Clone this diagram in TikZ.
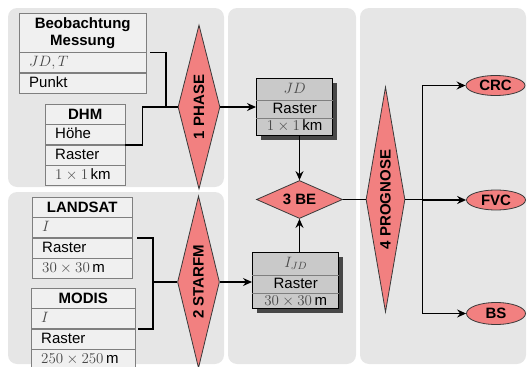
\RequirePackage{fix-cm}
\documentclass[tikz,border=0pt]{standalone}
\usepackage{fontspec}
\setmainfont{Liberation Sans}
\usetikzlibrary{arrows.meta,positioning,shapes.geometric,shadows}
\definecolor{panelgray}{HTML}{E6E6E6}
\definecolor{cellfill}{HTML}{F0F0F0}
\definecolor{cellline}{HTML}{7F7F7F}
\definecolor{resfill}{HTML}{C9C9C9}
\definecolor{procfill}{HTML}{F28080}
\definecolor{procline}{HTML}{3A3A3A}
\definecolor{mathgray}{HTML}{484848}
\newcommand{\grmath}[1]{\textcolor{mathgray}{$#1$}}

\begin{document}
\begin{tikzpicture}[x=1pt, y=-1pt, node font=\fontsize{15}{17}\selectfont,
  panel/.style={fill=panelgray, rounded corners=9pt},
  head/.style={draw=cellline, fill=cellfill, font=\bfseries, align=center, inner xsep=10pt, inner ysep=0pt, minimum height=20pt},
  cell/.style={draw=cellline, fill=cellfill, align=left, inner xsep=10pt, inner ysep=0pt, minimum height=20pt, text height=11pt, text depth=3pt},
  resbox/.style={draw, line width=1.4pt, fill=resfill, inner sep=0pt, drop shadow={shadow xshift=4pt, shadow yshift=-4pt, fill=black!72, opacity=1}},
  restext/.style={inner sep=0pt, align=center, text height=11pt, text depth=3pt},
  rowline/.style={draw=cellline, line width=0.5pt},
  proc/.style={diamond, draw=procline, fill=procfill, line width=0.8pt, inner sep=0pt, font=\bfseries},
  result/.style={ellipse, draw=procline, fill=procfill, line width=0.8pt, inner sep=0pt, minimum width=59pt, minimum height=20pt, font=\bfseries},
  feed/.style={line width=1.8pt},
  link/.style={line width=1.3pt},
  arr/.style={line width=1.4pt, -{Stealth[length=9pt, width=8pt, inset=3pt]}}]
\useasboundingbox (0,0) rectangle (528,367);
% panels
\fill[panel] (8,8) rectangle (224,187);
\fill[panel] (8,192) rectangle (224,364);
\fill[panel] (228,8) rectangle (356,364);
\fill[panel] (360,8) rectangle (526,364);
% input tables
\node[head, text width=107pt, minimum height=39pt, anchor=north west] (beohead) at (19,13) {Beobachtung\\Messung};
\node[cell, text width=107pt, below=0pt of beohead] (beojd) {\grmath{JD, T}};
\node[cell, text width=107pt, below=0pt of beojd] (beopunkt) {Punkt};
\node[head, text width=60pt, anchor=north west] (dhmhead) at (45,104) {DHM};
\node[cell, text width=60pt, below=0pt of dhmhead] (dhmhoehe) {Höhe};
\node[cell, text width=60pt, below=0pt of dhmhoehe] (dhmraster) {Raster};
\node[cell, text width=60pt, below=0pt of dhmraster] (dhmres) {\grmath{1\times 1}\,km};
\node[head, text width=80pt, anchor=north west] (landhead) at (32,197) {LANDSAT};
\node[cell, text width=80pt, below=0pt of landhead] (landi) {\grmath{I}};
\node[cell, text width=80pt, below=0pt of landi] (landraster) {Raster};
\node[cell, text width=80pt, below=0pt of landraster] (landres) {\grmath{30\times 30}\,m};
\node[head, text width=84pt, anchor=north west] (modhead) at (31,288) {MODIS};
\node[cell, text width=84pt, below=0pt of modhead] (modi) {\grmath{I}};
\node[cell, text width=84pt, below=0pt of modi] (modraster) {Raster};
\node[cell, text width=84pt, below=0pt of modraster] (modres) {\grmath{250\times 250}\,m};
% processing steps
\node[proc, shape aspect=0.25, minimum width=42pt, minimum height=164pt] (phase) at (199,107) {\rotatebox{90}{1 PHASE}};
\node[proc, shape aspect=0.25, minimum width=42pt, minimum height=172pt] (starfm) at (198.5,282) {\rotatebox{90}{2 STARFM}};
\node[proc, shape aspect=2.2, minimum width=86pt, minimum height=38pt] (be) at (299.5,199.5) {3 BE};
\node[proc, shape aspect=0.17, minimum width=39pt, minimum height=225pt] (prognose) at (385.5,199.5) {\rotatebox{90}{4 PROGNOSE}};
% intermediate rasters
\node[resbox, minimum width=76pt, minimum height=57pt, anchor=north west] (jd) at (256,78) {};
\node[restext, minimum height=22pt, anchor=north] (jdsym) at (jd.north) {\grmath{JD}};
\node[restext, minimum height=17pt, below=0pt of jdsym] (jdraster) {Raster};
\node[restext, minimum height=17pt, below=0pt of jdraster] (jdres) {\grmath{1\times 1}\,km};
\draw[rowline] (jdsym.south -| jd.west) -- (jdsym.south -| jd.east);
\draw[rowline] (jdraster.south -| jd.west) -- (jdraster.south -| jd.east);
\node[resbox, minimum width=86pt, minimum height=56pt, anchor=north west] (ijd) at (252,252) {};
\node[restext, minimum height=23pt, anchor=north] (ijdsym) at (ijd.north) {\grmath{I_{JD}}};
\node[restext, minimum height=17pt, below=0pt of ijdsym] (ijdraster) {Raster};
\node[restext, minimum height=16pt, below=0pt of ijdraster] (ijdres) {\grmath{30\times 30}\,m};
\draw[rowline] (ijdsym.south -| ijd.west) -- (ijdsym.south -| ijd.east);
\draw[rowline] (ijdraster.south -| ijd.west) -- (ijdraster.south -| ijd.east);
% outputs
\node[result] (crc) at (495.5,85.5) {CRC};
\node[result] (fvc) at (496,200) {FVC};
\node[result, minimum height=22pt] (bs) at (496,313.5) {BS};
% connectors
\coordinate (phasein) at ([xshift=-12pt]phase.west);
\draw[feed] ([xshift=4pt]beohead.south east) -| (phasein) -- (phase.west);
\draw[feed] (dhmhoehe.south east) -- ++(17,0) |- (phasein);
\coordinate (starfmin) at ([xshift=-24pt]starfm.west);
\draw[feed] ([xshift=5pt]landi.south east) -| (starfmin) -- (starfm.west);
\draw[feed] ([xshift=3pt]modi.south east) -| (starfmin);
\draw[arr] (phase.east) -- (phase.east -| jd.west);
\draw[arr] (starfm.east) -- (starfm.east -| ijd.west);
\draw[arr] (be.north |- jd.south) -- (be.north);
\draw[arr] (be.south |- ijd.north) -- (be.south);
\draw[link] (be.east) -- (prognose.west);
\coordinate (fork) at ([xshift=17pt]prognose.east);
\draw[link] (prognose.east) -- (fork);
\draw[arr] (fork) |- (crc.west);
\draw[arr] (fork) |- (fvc.west);
\draw[arr] (fork) |- (bs.west);
\end{tikzpicture}
\end{document}
